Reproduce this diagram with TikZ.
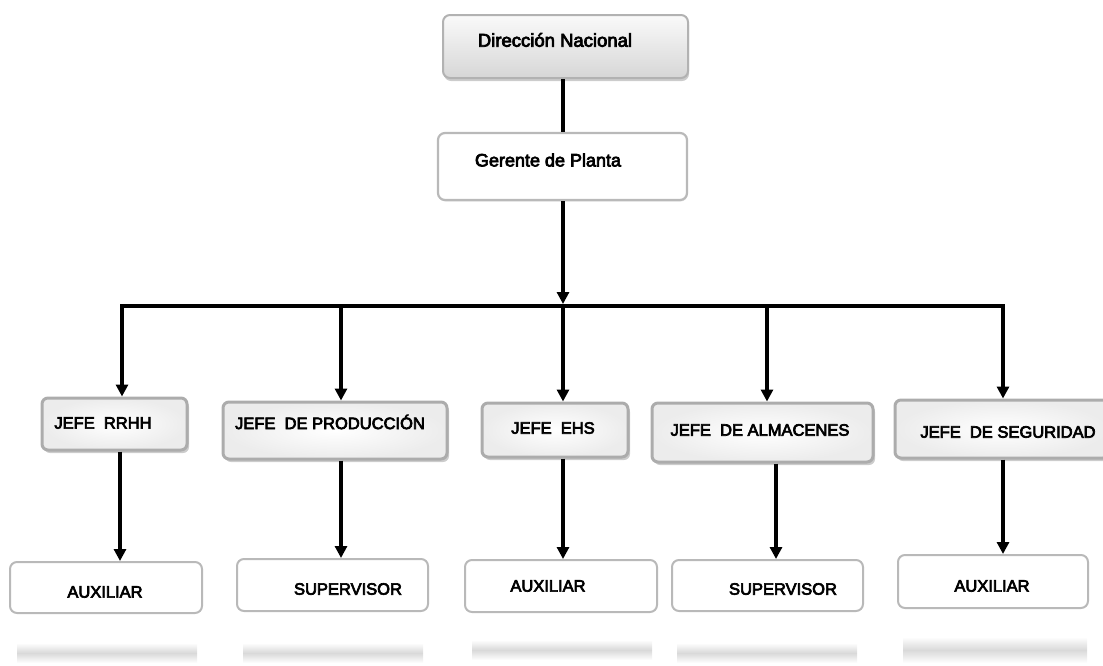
\documentclass[tikz,border=0pt]{standalone}
\usepackage{fontspec}
\setmainfont[FakeBold=4]{Liberation Sans}
\usetikzlibrary{arrows.meta,shadows}
\begin{document}
\begin{tikzpicture}[x=1pt,y=-1pt,
  topbox/.style={rectangle, rounded corners=7pt, draw=gray!60, line width=2pt,
    top color=gray!4, bottom color=gray!32,
    drop shadow={shadow xshift=1pt, shadow yshift=-3pt, fill=gray!80}},
  gerbox/.style={rectangle, rounded corners=7pt, draw=gray!55, line width=2.2pt, fill=white,
    drop shadow={shadow xshift=0.5pt, shadow yshift=-1.5pt, fill=gray!45}},
  jefebox/.style={rectangle, rounded corners=6pt, draw=gray!65, line width=3pt,
    inner color=white, outer color=gray!15,
    drop shadow={shadow xshift=2pt, shadow yshift=-3pt, fill=gray!80}},
  lowbox/.style={rectangle, rounded corners=7pt, draw=gray!55, line width=2pt, fill=white},
  txt/.style={font=\fontsize{16.5}{18}\selectfont, inner sep=0pt, anchor=center},
  bigtxt/.style={font=\fontsize{18.5}{20}\selectfont, inner sep=0pt, anchor=center},
  ln/.style={line width=3.4pt, line cap=rect},
  arr/.style={line width=3.4pt, -{Triangle[width=12pt,length=12pt]}},
  refl/.style={top color=white, bottom color=white, middle color=gray!30}
]
\useasboundingbox (0,0) rectangle (1103,665);

% reflections
\shade[refl] (17,643) rectangle (197,663);
\shade[refl] (243,643) rectangle (423,663);
\shade[refl] (472,640) rectangle (652,660);
\shade[refl] (677,643) rectangle (857,663);
\shade[refl] (903,637) rectangle (1087,663);

% boxes
\node[topbox, minimum width=245pt, minimum height=63pt] (dn) at (565.5,46.5) {};
\node[bigtxt] (dnT) at (555,40) {Dirección Nacional};
\node[gerbox, minimum width=249pt, minimum height=67pt] (ger) at (562.5,166.5) {};
\node[bigtxt, font=\fontsize{18}{20}\selectfont] (gerT) at (548,160) {Gerente de Planta};

\node[jefebox, minimum width=145pt, minimum height=52pt] (rrhh) at (114.5,424) {};
\node[txt] (rrhhT) at (103,423) {JEFE\ \ RRHH};
\node[jefebox, minimum width=224pt, minimum height=57pt] (prod) at (335,430.5) {};
\node[txt] (prodT) at (330,422) {JEFE\ \ DE PRODUCCIÓN};
\node[jefebox, minimum width=146pt, minimum height=54pt] (ehs) at (555,430) {};
\node[txt] (ehsT) at (553,428) {JEFE\ \ EHS};
\node[jefebox, minimum width=221pt, minimum height=59pt] (alm) at (762.5,432.5) {};
\node[txt] (almT) at (760,430) {JEFE\ \ DE ALMACENES};
\node[jefebox, minimum width=214pt, minimum height=58pt] (seg) at (1002,429) {};
\node[txt] (segT) at (1008,432) {JEFE\ \ DE SEGURIDAD};

\node[lowbox, minimum width=192pt, minimum height=51pt] (aux1) at (106,587.5) {};
\node[txt] (aux1T) at (105,592) {AUXILIAR};
\node[lowbox, minimum width=191pt, minimum height=52pt] (sup1) at (332.5,585) {};
\node[txt] (sup1T) at (348,589) {SUPERVISOR};
\node[lowbox, minimum width=192pt, minimum height=52pt] (aux2) at (561,586) {};
\node[txt] (aux2T) at (548,586) {AUXILIAR};
\node[lowbox, minimum width=191pt, minimum height=51pt] (sup2) at (767.5,585.5) {};
\node[txt] (sup2T) at (783,589) {SUPERVISOR};
\node[lowbox, minimum width=190pt, minimum height=53pt] (aux3) at (993,581.5) {};
\node[txt] (aux3T) at (992,586) {AUXILIAR};

% bus coordinates
\coordinate (b1) at (122,306);
\coordinate (b2) at (341,306);
\coordinate (b3) at (563,306);
\coordinate (b4) at (767,306);
\coordinate (b5) at (1003,306);
\coordinate (d1) at (120,500);
\coordinate (d2) at (341,500);
\coordinate (d3) at (563,500);
\coordinate (d4) at (776,500);
\coordinate (d5) at (1003,500);

% connectors
\draw[line width=3.4pt] (dn.south -| b3) -- (ger.north -| b3);
\draw[ln] (b1) -- (b5);
\draw[arr] (ger.south -| b3) -- ([yshift=2pt]b3);
\draw[arr] (b1) -- (rrhh.north -| b1);
\draw[arr] (b2) -- (prod.north -| b2);
\draw[arr] (b3) -- (ehs.north -| b3);
\draw[arr] (b4) -- (alm.north -| b4);
\draw[arr] (b5) -- (seg.north -| b5);

\draw[arr] (rrhh.south -| d1) -- (aux1.north -| d1);
\draw[arr] (prod.south -| d2) -- (sup1.north -| d2);
\draw[arr] (ehs.south -| d3) -- (aux2.north -| d3);
\draw[arr] (alm.south -| d4) -- (sup2.north -| d4);
\draw[arr] (seg.south -| d5) -- (aux3.north -| d5);
\end{tikzpicture}
\end{document}
